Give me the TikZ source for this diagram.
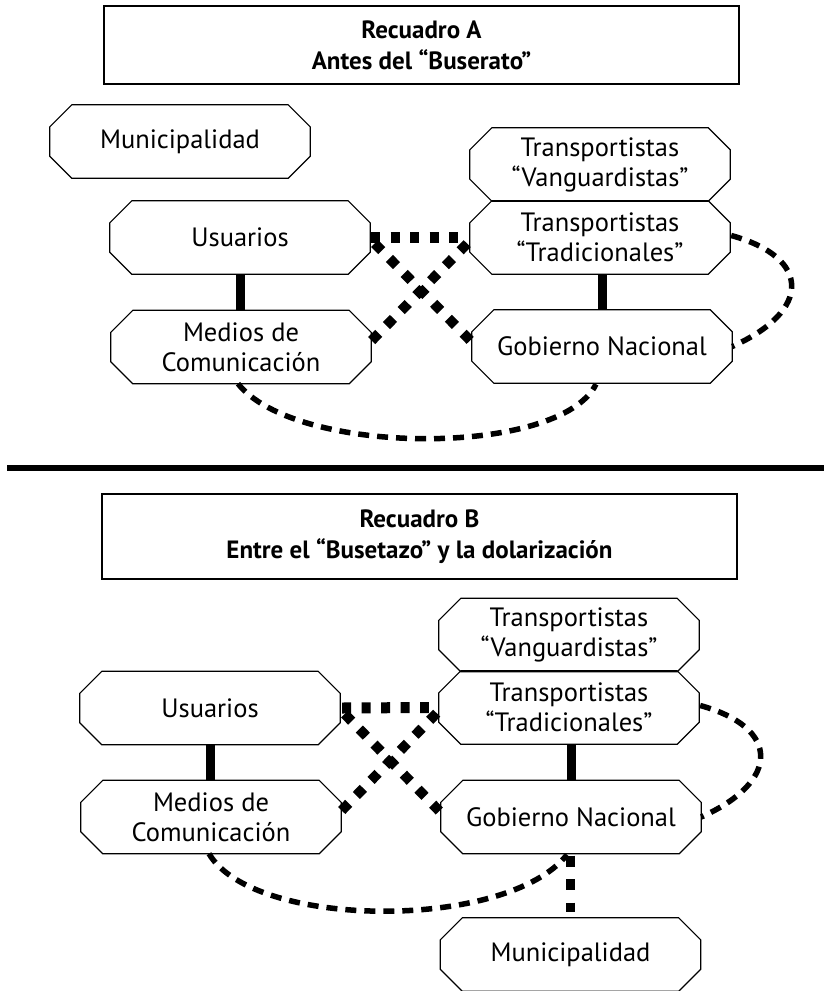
\documentclass[tikz,border=0pt]{standalone}
\usepackage{fontspec}
\setmainfont{PT Sans}
\usetikzlibrary{calc}
\newcommand\octagonof[1]{\draw[octline] ([xshift=22pt]#1.north west) -- ([xshift=-22pt]#1.north east) -- ([yshift=-22pt]#1.north east) -- ([yshift=22pt]#1.south east) -- ([xshift=-22pt]#1.south east) -- ([xshift=22pt]#1.south west) -- ([yshift=22pt]#1.south west) -- ([yshift=-22pt]#1.north west) -- cycle;}
\tikzset{
  oct/.style={minimum width=260pt, minimum height=73pt, inner sep=0pt, align=center, font=\fontsize{26.5}{30}\selectfont},
  octline/.style={line width=1.2pt, line join=miter},
  titlebox/.style={draw, line width=1.5pt, minimum width=635pt, inner sep=0pt, align=center, font=\bfseries\fontsize{25}{31}\selectfont},
  solidlink/.style={line width=9pt},
  sqlink/.style={line width=11pt, dash pattern=on 9pt off 10.5pt},
  dmlink/.style={line width=10pt, dash pattern=on 10pt off 11pt},
  arclink/.style={line width=5.5pt, dash pattern=on 11pt off 8pt},
  vlink/.style={line width=9pt, dash pattern=on 11pt off 12.5pt},
  divider/.style={line width=6pt}
}
\begin{document}
\begin{tikzpicture}[x=1pt,y=-1pt]
\useasboundingbox (0,0) rectangle (824,991);
% ---------- Recuadro A ----------
\node[titlebox, minimum height=78pt] (TA) at (421.5,45) {Recuadro A\\Antes del “Buserato”};
\node[oct] (MunA) at (180,141.5) {Municipalidad};
\node[oct] (TVA) at (600,164.5) {Transportistas\\“Vanguardistas”};
\node[oct] (TTA) at (600,237.5) {Transportistas\\“Tradicionales”};
\node[oct] (UsA) at (240,237.5) {Usuarios};
\node[oct] (MedA) at (241,347) {Medios de\\Comunicación};
\node[oct] (GobA) at (602,346.5) {Gobierno Nacional};
\foreach \n in {MunA,TVA,TTA,UsA,MedA,GobA}{\octagonof{\n}}
\draw[solidlink] (UsA.south) -- (UsA.south |- MedA.north);
\draw[solidlink] (GobA.north) -- (GobA.north |- TTA.south);
\draw[sqlink] ($(UsA.east)+(1,0)$) -- ($(TTA.west)+(-11,0)$);
\draw[dmlink] ($(UsA.east)+(4.5,6)$) -- ($(GobA.west)+(-1.5,-6)$);
\draw[dmlink] ($(MedA.east)+(0.5,-6.5)$) -- ($(TTA.west)+(-0.5,4)$);
\draw[arclink] ($(TTA.east)+(1,-2)$) .. controls +(80,22) and +(80,-36) .. (GobA.east);
\draw[arclink] ($(MedA.south)+(-3,0)$) .. controls +(58,73) and +(-36,73) .. ($(GobA.south)+(-6,1)$);
% ---------- divider ----------
\coordinate (DL) at (7,468);
\coordinate (DR) at (824,468);
\draw[divider] (DL) -- (DR);
% ---------- Recuadro B ----------
\node[titlebox, minimum height=85pt] (TB) at (419.5,536.5) {Recuadro B\\Entre el “Busetazo” y la dolarización};
\node[oct] (TVB) at (569,635) {Transportistas\\“Vanguardistas”};
\node[oct] (TTB) at (569,707.5) {Transportistas\\“Tradicionales”};
\node[oct] (UsB) at (210,708) {Usuarios};
\node[oct] (MedB) at (211,817) {Medios de\\Comunicación};
\node[oct] (GobB) at (571,817) {Gobierno Nacional};
\node[oct] (MunB) at (570.5,954.5) {Municipalidad};
\foreach \n in {TVB,TTB,UsB,MedB,GobB,MunB}{\octagonof{\n}}
\draw[solidlink] (UsB.south) -- (UsB.south |- MedB.north);
\draw[solidlink] (GobB.north) -- (GobB.north |- TTB.south);
\draw[sqlink] ($(UsB.east)+(2,0)$) -- ($(TTB.west)+(-10,0)$);
\draw[dmlink] ($(UsB.east)+(4.5,6)$) -- ($(GobB.west)+(-1.5,-6)$);
\draw[dmlink] ($(MedB.east)+(0.5,-6.5)$) -- ($(TTB.west)+(-0.5,4)$);
\draw[arclink] ($(TTB.east)+(1,-2)$) .. controls +(80,22) and +(80,-36) .. (GobB.east);
\draw[arclink] ($(MedB.south)+(-2,0)$) .. controls +(45,76) and +(-60,76) .. ($(GobB.south)+(-4,1)$);
\draw[vlink] ($(GobB.south)+(-0.5,2)$) -- ($(MunB.north)+(0,-6)$);
\end{tikzpicture}
\end{document}
